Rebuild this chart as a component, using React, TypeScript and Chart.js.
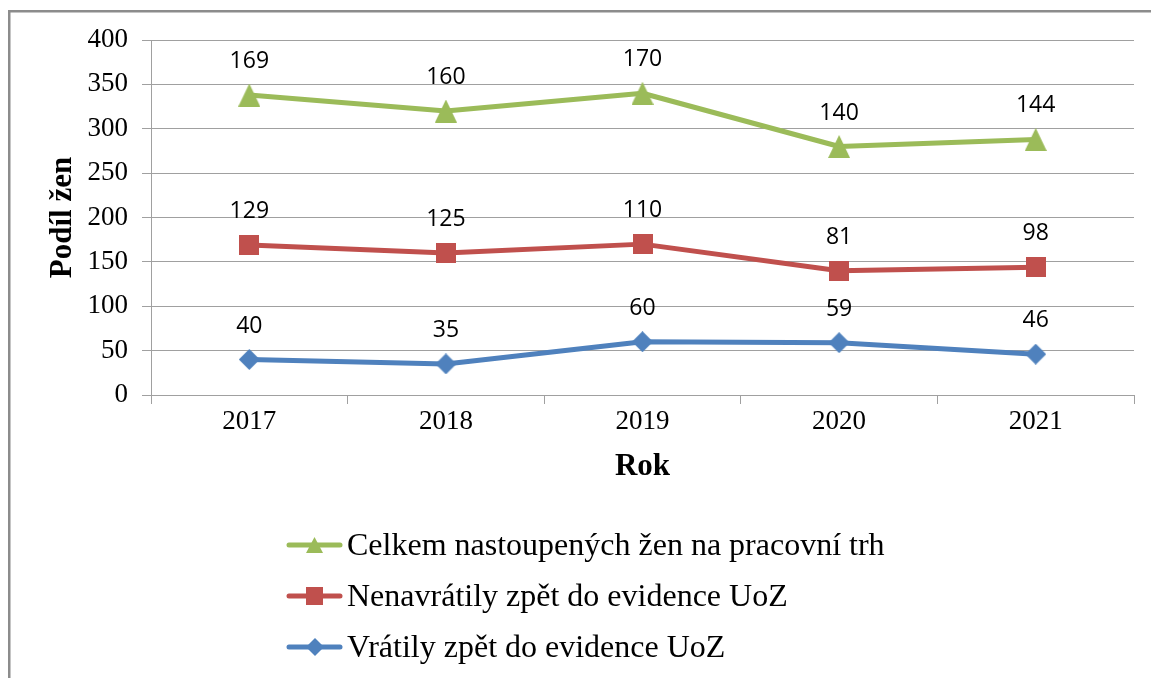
import React, { useEffect, useRef } from 'react';
import { Chart, registerables } from 'chart.js';

Chart.register(...registerables);

// ---- data ----
const categories = ['2017', '2018', '2019', '2020', '2021'];
const vratily = [40, 35, 60, 59, 46];
const nenavratily = [129, 125, 110, 81, 98];
const celkem = [169, 160, 170, 140, 144];

const seriesNames = [
  'Vrátily zpět do evidence UoZ',
  'Nenavrátily zpět do evidence UoZ',
  'Celkem nastoupených žen na pracovní trh',
];

const GREEN = '#9BBB59';
const RED = '#C0504D';
const BLUE = '#4F81BD';
const GRID = '#a0a0a0';
const SERIF = '"Liberation Serif", "Times New Roman", serif';
const SANS = '"Open Sans", "Noto Sans", sans-serif';

type Shape = 'triangle' | 'square' | 'diamond';

function makeMarker(shape: Shape, w: number, h: number, color: string): HTMLCanvasElement {
  const c = document.createElement('canvas');
  c.width = w;
  c.height = h;
  const ctx = c.getContext('2d')!;
  ctx.fillStyle = color;
  ctx.beginPath();
  if (shape === 'triangle') {
    ctx.moveTo(w / 2, 0);
    ctx.lineTo(w, h);
    ctx.lineTo(0, h);
  } else if (shape === 'square') {
    ctx.rect(0, 0, w, h);
  } else {
    ctx.moveTo(w / 2, 0);
    ctx.lineTo(w, h / 2);
    ctx.lineTo(w / 2, h);
    ctx.lineTo(0, h / 2);
  }
  ctx.closePath();
  ctx.fill();
  return c;
}

export default function App() {
  const ref = useRef<HTMLCanvasElement | null>(null);

  useEffect(() => {
    document.body.style.margin = '0';
    const canvas = ref.current;
    if (!canvas) return;

    const markers = {
      blue: makeMarker('diamond', 21, 21, BLUE),
      red: makeMarker('square', 20, 20, RED),
      green: makeMarker('triangle', 22, 23, GREEN),
    };
    const legendMarkers = {
      blue: makeMarker('diamond', 18, 18, BLUE),
      red: makeMarker('square', 17, 18, RED),
      green: makeMarker('triangle', 17, 16, GREEN),
    };

    const bgPlugin = {
      id: 'bgBorder',
      beforeDraw(chart: any) {
        const ctx = chart.ctx;
        ctx.save();
        ctx.fillStyle = '#ffffff';
        ctx.fillRect(0, 0, chart.width, chart.height);
        ctx.strokeStyle = '#8c8c8c';
        ctx.lineWidth = 2.5;
        ctx.beginPath();
        ctx.moveTo(9.25, chart.height + 2);
        ctx.lineTo(9.25, 11.25);
        ctx.lineTo(chart.width + 2, 11.25);
        ctx.stroke();
        ctx.restore();
      },
    };

    const labelPlugin = {
      id: 'valueLabels',
      afterDatasetsDraw(chart: any) {
        const ctx = chart.ctx;
        ctx.save();
        ctx.font = `23px ${SANS}`;
        ctx.fillStyle = '#000';
        ctx.textAlign = 'center';
        ctx.textBaseline = 'alphabetic';
        chart.data.datasets.forEach((ds: any, i: number) => {
          const meta = chart.getDatasetMeta(i);
          meta.data.forEach((pt: any, j: number) => {
            ctx.fillText(String(ds.data[j]), pt.x, pt.y - 27);
          });
        });
        ctx.restore();
      },
    };

    const legendPlugin = {
      id: 'excelLegend',
      afterDraw(chart: any) {
        const ctx = chart.ctx;
        const items = [
          { name: seriesNames[2], color: GREEN, m: legendMarkers.green },
          { name: seriesNames[1], color: RED, m: legendMarkers.red },
          { name: seriesNames[0], color: BLUE, m: legendMarkers.blue },
        ];
        const ys = [545, 596, 647];
        ctx.save();
        items.forEach((it, k) => {
          const y = ys[k];
          ctx.strokeStyle = it.color;
          ctx.lineWidth = 5;
          ctx.lineCap = 'round';
          ctx.beginPath();
          ctx.moveTo(289, y);
          ctx.lineTo(340, y);
          ctx.stroke();
          ctx.drawImage(it.m, Math.round(314.5 - it.m.width / 2), Math.round(y - it.m.height / 2));
          ctx.fillStyle = '#000';
          ctx.font = `32px ${SERIF}`;
          ctx.textAlign = 'left';
          ctx.textBaseline = 'alphabetic';
          ctx.fillText(it.name, 347, y + 10);
        });
        ctx.restore();
      },
    };

    const lineDs = (label: string, data: number[], color: string, marker: HTMLCanvasElement) => ({
      label,
      data,
      borderColor: color,
      backgroundColor: color,
      borderWidth: 5,
      borderJoinStyle: 'round' as const,
      borderCapStyle: 'round' as const,
      tension: 0,
      fill: false,
      pointStyle: marker,
      pointRadius: 10,
      pointHoverRadius: 10,
    });

    const chart = new Chart(canvas, {
      type: 'line',
      data: {
        labels: categories,
        datasets: [
          lineDs(seriesNames[0], vratily, BLUE, markers.blue),
          lineDs(seriesNames[1], nenavratily, RED, markers.red),
          lineDs(seriesNames[2], celkem, GREEN, markers.green),
        ],
      },
      options: {
        responsive: false,
        animation: false,
        devicePixelRatio: 1,
        layout: { padding: { left: 44, top: 40, right: 17, bottom: 192 } },
        plugins: {
          legend: { display: false },
          tooltip: { enabled: false },
        },
        scales: {
          x: {
            offset: true,
            ticks: {
              color: '#000',
              font: { family: SERIF, size: 27 },
              padding: 2,
              maxRotation: 0,
            },
            grid: {
              offset: true,
              drawOnChartArea: false,
              drawTicks: true,
              tickLength: 9,
              color: GRID,
            },
            border: { display: true, color: GRID },
            title: {
              display: true,
              text: 'Rok',
              color: '#000',
              font: { family: SERIF, size: 31, weight: 'bold' },
              padding: 0,
            },
            afterFit: (s: any) => {
              s.height = 91;
            },
          },
          y: {
            stacked: true,
            min: 0,
            max: 400,
            ticks: {
              stepSize: 50,
              color: '#000',
              font: { family: SERIF, size: 27 },
              padding: 14,
            },
            grid: {
              color: GRID,
              drawTicks: true,
              tickLength: 9,
            },
            border: { display: true, color: GRID },
            title: {
              display: true,
              text: 'Podíl žen',
              color: '#000',
              font: { family: SERIF, size: 31, weight: 'bold' },
              padding: 0,
            },
            afterFit: (s: any) => {
              s.width = 107;
            },
          },
        },
      },
      plugins: [bgPlugin, labelPlugin, legendPlugin],
    } as any);

    return () => {
      chart.destroy();
    };
  }, []);

  return (
    <canvas
      ref={ref}
      width={1151}
      height={678}
      style={{ display: 'block', width: 1151, height: 678 }}
    />
  );
}
